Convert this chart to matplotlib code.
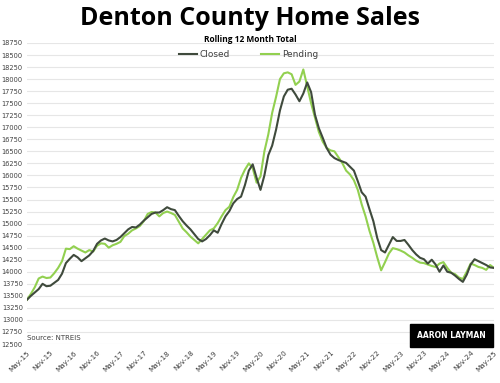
import matplotlib
matplotlib.use("Agg")
import matplotlib.pyplot as plt
import numpy as np

tick_labels = ["May-15", "Nov-15", "May-16", "Nov-16", "May-17", "Nov-17", "May-18",
               "Nov-18", "May-19", "Nov-19", "May-20", "Nov-20", "May-21", "Nov-21",
               "May-22", "Nov-22", "May-23", "Nov-23", "May-24", "Nov-24", "May-25"]

closed = [13420, 13500, 13570, 13640, 13750, 13700, 13710, 13770, 13830, 13960,
          14180, 14270, 14350, 14300, 14220, 14280, 14340, 14430, 14580, 14650,
          14690, 14650, 14630, 14660, 14720, 14800, 14880, 14930, 14920, 14980,
          15060, 15130, 15200, 15230, 15230, 15280, 15340, 15300, 15280, 15160,
          15050, 14960, 14880, 14780, 14680, 14630, 14680, 14760, 14860, 14810,
          14990, 15150, 15260, 15420, 15510, 15560, 15800, 16100, 16230, 15950,
          15700, 16000, 16420, 16620, 16950, 17350, 17640, 17780, 17800, 17680,
          17540, 17700, 17930, 17730, 17260, 16980, 16780, 16570, 16430, 16360,
          16320, 16290, 16260, 16180, 16100, 15880, 15650, 15560, 15300, 15050,
          14700, 14450, 14400, 14560, 14720, 14640, 14640, 14660, 14560, 14450,
          14360, 14290, 14260, 14170, 14250, 14150, 14000, 14130, 14000, 13980,
          13920, 13850, 13790, 13940, 14150, 14260, 14220, 14180, 14140, 14090,
          14080]

pending = [13420, 13540, 13680, 13860, 13900, 13870, 13880, 13970, 14080, 14220,
           14480, 14470, 14530, 14480, 14440, 14400, 14450, 14420, 14540, 14590,
           14580, 14500, 14550, 14580, 14620, 14740, 14790, 14860, 14900, 14950,
           15050, 15200, 15240, 15230, 15150, 15220, 15250, 15220, 15180, 15040,
           14900, 14820, 14730, 14660, 14590, 14680, 14770, 14860, 14900, 15010,
           15150, 15280, 15350, 15550, 15700, 15950, 16120, 16250, 16150, 15850,
           15980, 16500, 16850, 17300, 17630, 18000, 18120, 18140, 18100, 17880,
           17950, 18200, 17850, 17500, 17200, 16900, 16700, 16570, 16520, 16500,
           16380, 16260, 16100, 16020, 15900, 15700, 15400, 15150, 14850, 14600,
           14300, 14030, 14200, 14380, 14490, 14470, 14440, 14400, 14340, 14290,
           14230, 14190, 14180, 14150, 14120, 14100, 14170, 14200, 14080, 13980,
           13950, 13880, 13850, 14000, 14170, 14140, 14100, 14080, 14040, 14140,
           14080]

y_ticks = list(range(12500, 18751, 250))

fig = plt.figure(figsize=(5.0, 3.83), dpi=100)
ax = fig.add_axes([0.054, 0.1018, 0.934, 0.786])

months = np.arange(len(closed))
ax.plot(months, closed, color="#3f4a3c", lw=1.5, label="Closed", zorder=3)
ax.plot(months, pending, color="#92d050", lw=1.5, label="Pending", zorder=2)

ax.set_xlim(0, 120)
ax.set_ylim(12500, 18750)
ax.set_yticks(y_ticks)
ax.set_yticklabels([str(v) for v in y_ticks], fontsize=4.8, color="#404040")
ax.set_xticks(np.arange(0, 121, 6))
ax.set_xticklabels(tick_labels, rotation=45, ha="right", rotation_mode="anchor",
                   fontsize=5.2, color="#404040")
ax.tick_params(axis="both", length=0)
ax.tick_params(axis="y", pad=3)
ax.tick_params(axis="x", pad=4)
ax.grid(axis="y", color="#e6e6e6", lw=0.8)
ax.set_axisbelow(True)
for s in ax.spines.values():
    s.set_visible(False)

fig.text(0.5, 0.953, "Denton County Home Sales", ha="center", va="center",
         fontsize=18, fontweight="bold", family="Open Sans")
fig.text(0.5, 0.897, "Rolling 12 Month Total", ha="center", va="center",
         fontsize=6, fontweight="bold", family="Open Sans")
leg = fig.legend(loc="center", bbox_to_anchor=(0.497, 0.857), ncol=2, frameon=False,
                 fontsize=6.5, handlelength=2.0, columnspacing=3.4, handletextpad=0.3)
for t in leg.get_texts():
    t.set_color("#404040")

ax.text(0.0, 0.01, "Source: NTREIS", transform=ax.transAxes, fontsize=5,
        color="#404040", va="bottom", ha="left")

fig.text(0.903, 0.125, "AARON LAYMAN", ha="center", va="center", fontsize=5.5,
         color="white", fontweight="bold",
         bbox=dict(boxstyle="square,pad=0.9", fc="black", ec="black"))

fig.savefig("out.png", dpi=100)
